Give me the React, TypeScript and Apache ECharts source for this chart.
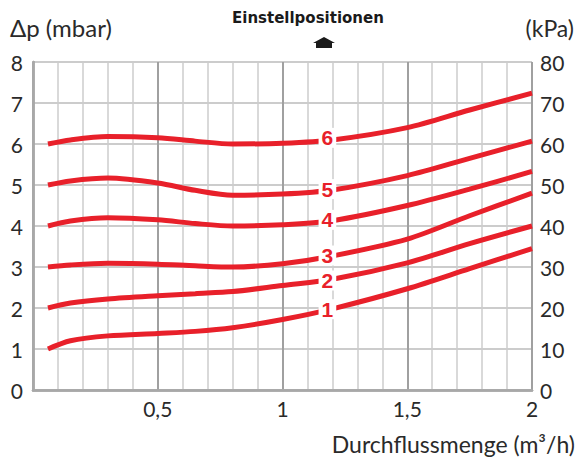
import React, { useEffect, useRef } from "react";
import * as echarts from "echarts";

const xValues = [0.06, 0.15, 0.3, 0.5, 0.65, 0.8, 1.0, 1.2, 1.5, 1.75, 2.0];
const curve1 = [1.0, 1.2, 1.32, 1.38, 1.43, 1.52, 1.72, 1.98, 2.47, 2.96, 3.45];
const curve2 = [2.0, 2.12, 2.22, 2.3, 2.35, 2.4, 2.55, 2.7, 3.1, 3.57, 4.0];
const curve3 = [3.0, 3.05, 3.09, 3.07, 3.03, 3.0, 3.08, 3.27, 3.68, 4.25, 4.8];
const curve4 = [4.0, 4.12, 4.2, 4.15, 4.06, 4.0, 4.03, 4.13, 4.5, 4.9, 5.33];
const curve5 = [5.0, 5.1, 5.17, 5.05, 4.87, 4.75, 4.78, 4.88, 5.23, 5.65, 6.07];
const curve6 = [6.0, 6.1, 6.18, 6.15, 6.07, 6.0, 6.02, 6.1, 6.4, 6.83, 7.24];
const curves = [curve1, curve2, curve3, curve4, curve5, curve6];

const positionNames = ["1", "2", "3", "4", "5", "6"];
const labelX = 1.18;
const labelY = [1.97, 2.67, 3.28, 4.15, 4.9, 6.15];

const xTickLabels: Record<string, string> = { "0.5": "0,5", "1": "1", "1.5": "1,5", "2": "2" };
const titleText = "Einstellpositionen";
const leftAxisName = "Δp (mbar)";
const rightAxisName = "(kPa)";
const xAxisName = "Durchflussmenge (m³/h)";

const RED = "#e8202a";
const FONT = "Lato, 'Noto Sans', sans-serif";

export default function App() {
  const ref = useRef<HTMLDivElement>(null);
  useEffect(() => {
    if (!ref.current) return;
    const chart = echarts.init(ref.current, undefined, { renderer: "svg" });
    const lineSeries = curves.map((c, i) => ({
      type: "line",
      name: positionNames[i],
      data: xValues.map((x, j) => [x, c[j]]),
      smooth: 0.3,
      showSymbol: false,
      symbol: "none",
      lineStyle: { color: RED, width: 5 },
      z: 3,
      xAxisIndex: 0,
      yAxisIndex: 0,
    }));
    chart.setOption({
      animation: false,
      grid: { left: 33, right: 47, top: 62, bottom: 71, containLabel: false },
      xAxis: [
        {
          type: "value",
          min: 0,
          max: 2,
          interval: 0.1,
          axisLine: { show: true, lineStyle: { color: "#a8a8a8", width: 2.5 } },
          axisTick: { show: false },
          axisLabel: {
            color: "#2a2a2a",
            fontSize: 21,
            fontFamily: FONT,
            margin: 8,
            formatter: (v: number) => {
              const k = Math.round(v * 10) / 10;
              return xTickLabels[String(k)] ?? "";
            },
          },
          splitLine: { show: true, lineStyle: { color: "#cccccc", width: 1.5 } },
        },
        {
          type: "value",
          position: "top",
          min: 0,
          max: 2,
          interval: 0.5,
          axisLine: { show: true, lineStyle: { color: "#a8a8a8", width: 2.5 } },
          axisTick: { show: false },
          axisLabel: { show: false },
          splitLine: { show: true, lineStyle: { color: "#a0a0a0", width: 2 } },
        },
      ],
      yAxis: [
        {
          type: "value",
          min: 0,
          max: 8,
          interval: 1,
          axisLine: { show: true, lineStyle: { color: "#a8a8a8", width: 2.5 } },
          axisTick: { show: false },
          axisLabel: { color: "#2a2a2a", fontSize: 21, fontFamily: FONT, margin: 10 },
          splitLine: { show: true, lineStyle: { color: "#bbbbbb", width: 1.5 } },
        },
        {
          type: "value",
          position: "right",
          min: 0,
          max: 80,
          interval: 10,
          axisLine: { show: true, lineStyle: { color: "#a8a8a8", width: 2.5 } },
          axisTick: { show: false },
          axisLabel: { color: "#2a2a2a", fontSize: 21, fontFamily: FONT, margin: 8 },
          splitLine: { show: false },
        },
      ],
      series: [
        ...lineSeries,
        {
          type: "scatter",
          data: labelY.map((y, i) => ({ value: [labelX, y], name: positionNames[i] })),
          symbolSize: 1,
          itemStyle: { color: "#ffffff", opacity: 1 },
          z: 5,
          label: {
            show: true,
            position: "inside",
            formatter: (p: any) => p.name,
            color: RED,
            opacity: 1,
            fontSize: 21,
            fontWeight: "bold",
            fontFamily: "'Liberation Sans', Arial, sans-serif",
            backgroundColor: "#ffffff",
            textBorderWidth: 0,
            padding: [0, 3, -1, 3],
          },
          emphasis: { disabled: true },
          labelLayout: { hideOverlap: false },
        },
      ],
      graphic: [
        {
          type: "text",
          left: 232,
          top: 10,
          style: {
            text: titleText,
            fontSize: 15,
            fontWeight: "bold",
            fontFamily: "'DejaVu Sans', sans-serif",
            fill: "#1a1a1a",
          },
        },
        {
          type: "polygon",
          shape: {
            points: [
              [324, 37],
              [335, 43],
              [332, 43],
              [332, 48],
              [316, 48],
              [316, 43],
              [313, 43],
            ],
          },
          style: { fill: "#1a1a1a" },
        },
        {
          type: "text",
          left: 10,
          top: 15,
          style: { text: leftAxisName, fontSize: 24, fontFamily: FONT, fill: "#2a2a2a" },
        },
        {
          type: "text",
          right: 5,
          top: 16,
          style: { text: rightAxisName, fontSize: 23, fontFamily: FONT, fill: "#2a2a2a" },
        },
        {
          type: "text",
          right: 4,
          top: 432,
          style: { text: xAxisName, fontSize: 23, fontFamily: FONT, fill: "#2a2a2a" },
        },
      ],
    });
    return () => chart.dispose();
  }, []);
  return (
    <div
      ref={ref}
      style={{ position: "fixed", left: 0, top: 0, width: 579, height: 461, background: "#fff" }}
    />
  );
}
